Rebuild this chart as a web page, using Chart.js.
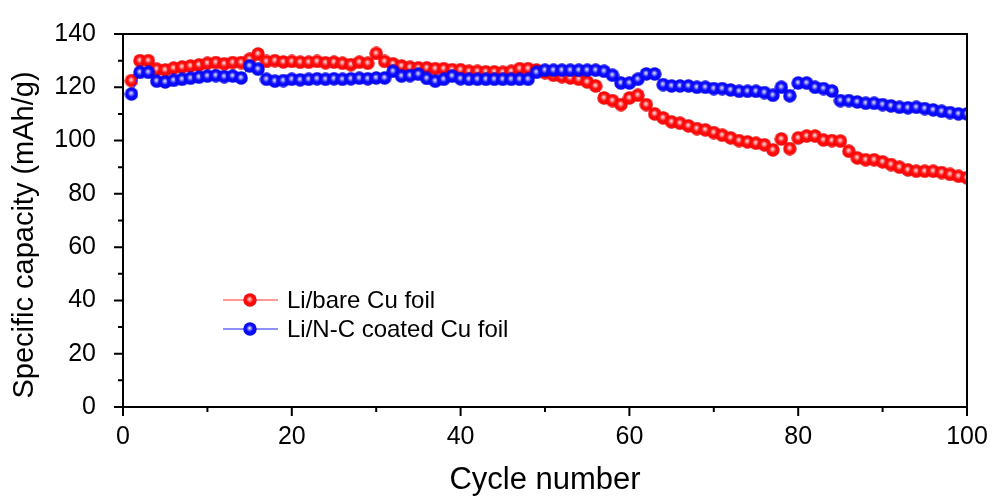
<!DOCTYPE html>
<html>
<head>
<meta charset="utf-8">
<script src="https://cdn.jsdelivr.net/npm/chart.js@4.4.0/dist/chart.umd.min.js"></script>
<style>
  html, body { margin: 0; padding: 0; background: #fff; }
  #wrap { width: 995px; height: 499px; }
</style>
</head>
<body>
<div id="wrap"><canvas id="capacityChart" width="995" height="499"></canvas></div>
<script>
const cycles = [
  1, 2, 3, 4, 5, 6, 7, 8, 9, 10, 11, 12, 13, 14, 15, 16, 17, 18, 19, 20,
  21, 22, 23, 24, 25, 26, 27, 28, 29, 30, 31, 32, 33, 34, 35, 36, 37, 38, 39, 40,
  41, 42, 43, 44, 45, 46, 47, 48, 49, 50, 51, 52, 53, 54, 55, 56, 57, 58, 59, 60,
  61, 62, 63, 64, 65, 66, 67, 68, 69, 70, 71, 72, 73, 74, 75, 76, 77, 78, 79, 80,
  81, 82, 83, 84, 85, 86, 87, 88, 89, 90, 91, 92, 93, 94, 95, 96, 97, 98, 99, 100
];

// Li/bare Cu foil
const bareCu = [
  122.5, 130, 130, 126.8, 126.5, 127.2, 127.6, 128, 128.4, 129,
  129.3, 128.8, 129.3, 129.3, 130.5, 132.5, 129.7, 130, 129.5, 129.7,
  129.4, 129.4, 129.7, 129.2, 129.4, 129, 128.5, 129.4, 129, 132.7,
  129.7, 128.8, 128, 127.5, 127.3, 127.3, 127, 127, 126.6, 126.6,
  126, 126, 125.8, 125.8, 125.6, 126, 127, 127, 126.5, 125.5,
  124.5, 124, 123.5, 123, 122, 120.5, 116, 115, 113.5, 116,
  117, 113.5, 110, 108.5, 107, 106.5, 105.5, 104.5, 104, 103,
  102, 101, 100, 99.5, 99, 98.4, 96.5, 100.6, 97, 101,
  101.7, 101.7, 100.2, 100, 99.8, 96, 93.5, 92.8, 92.8, 92,
  91, 90, 89, 88.5, 88.5, 88.5, 88, 87.3, 86.6, 86
];

// Li/N-C coated Cu foil
const coatedCu = [
  117.5, 125.6, 125.6, 122.3, 122, 122.6, 123, 123.4, 123.8, 124.2,
  124.4, 124, 124.2, 123.5, 128, 126.8, 123, 122.3, 122.5, 123,
  122.8, 123, 123.2, 123, 123.2, 123, 123.2, 123.4, 123.2, 123.5,
  123.5, 126, 124.2, 124.4, 124.9, 123.3, 122.3, 123, 124.2, 123.2,
  123, 123, 123, 123, 123, 123, 123, 123, 125.6, 126.4,
  126.4, 126.4, 126.4, 126.4, 126.4, 126.4, 126, 124.5, 121.6, 121.6,
  123, 125, 125, 121, 120.5, 120.5, 120.5, 120, 120, 119.5,
  119.5, 119, 118.5, 118.5, 118.5, 118, 117, 120, 116.8, 121.6,
  121.6, 120, 119.5, 118.6, 115, 115, 114.5, 114, 114, 113.5,
  113, 112.5, 112.3, 112.5, 112, 111.5, 111, 110.5, 110, 110
];

const seriesNames = ["Li/bare Cu foil", "Li/N-C coated Cu foil"];
const xTicks = [0, 20, 40, 60, 80, 100];
const yTicks = [0, 20, 40, 60, 80, 100, 120, 140];

const FONT = "'Liberation Sans', Arial, sans-serif";

// shiny ball marker like the Origin plot
function makeBall(base, tint, edge) {
  const size = 14;
  const c = document.createElement("canvas");
  c.width = size;
  c.height = size;
  const g = c.getContext("2d");
  const r = size / 2;
  const grad = g.createRadialGradient(r - 0.5, r - 1, 0, r, r, r);
  grad.addColorStop(0, "#ffffff");
  grad.addColorStop(0.18, tint);
  grad.addColorStop(0.5, base);
  grad.addColorStop(0.85, base);
  grad.addColorStop(1, edge);
  g.fillStyle = grad;
  g.beginPath();
  g.arc(r, r, r - 0.3, 0, Math.PI * 2);
  g.fill();
  return c;
}

const redBall = makeBall("#ff0a0a", "#ff9a9a", "#c80000");
const blueBall = makeBall("#0a0aff", "#9a9aff", "#0000b4");

// frame, outward ticks, y title and inset legend
const decorations = {
  id: "decorations",
  afterDraw(chart) {
    const { ctx, chartArea: a, scales } = chart;
    ctx.save();
    ctx.strokeStyle = "#000";
    ctx.lineWidth = 2;
    ctx.strokeRect(a.left, a.top, a.right - a.left, a.bottom - a.top);

    ctx.beginPath();
    for (let v = 0; v <= 100; v += 10) {
      const x = scales.x.getPixelForValue(v);
      const len = v % 20 === 0 ? 9 : 5;
      ctx.moveTo(x, a.bottom);
      ctx.lineTo(x, a.bottom + len);
    }
    for (let v = 0; v <= 140; v += 10) {
      const y = scales.y.getPixelForValue(v);
      const len = v % 20 === 0 ? 9 : 5;
      ctx.moveTo(a.left, y);
      ctx.lineTo(a.left - len, y);
    }
    ctx.stroke();

    // y axis title
    ctx.fillStyle = "#000";
    ctx.font = "29px " + FONT;
    ctx.textAlign = "center";
    ctx.textBaseline = "middle";
    ctx.translate(25, 235);
    ctx.rotate(-Math.PI / 2);
    ctx.fillText("Specific capacity (mAh/g)", 0, 0);
    ctx.setTransform(1, 0, 0, 1, 0, 0);

    // legend
    const rows = [
      { name: seriesNames[0], color: "#ff3030", ball: redBall, y: 300 },
      { name: seriesNames[1], color: "#2020ff", ball: blueBall, y: 329 }
    ];
    ctx.font = "24px " + FONT;
    ctx.textAlign = "left";
    rows.forEach(row => {
      ctx.strokeStyle = row.color;
      ctx.lineWidth = 1;
      ctx.beginPath();
      ctx.moveTo(223, row.y);
      ctx.lineTo(278, row.y);
      ctx.stroke();
      ctx.drawImage(row.ball, 250 - 7, row.y - 7);
      ctx.fillStyle = "#000";
      ctx.fillText(row.name, 287, row.y + 1);
    });
    ctx.restore();
  }
};

new Chart(document.getElementById("capacityChart"), {
  type: "line",
  data: {
    labels: cycles,
    datasets: [
      {
        label: seriesNames[0],
        data: bareCu,
        borderColor: "#ff2020",
        borderWidth: 1,
        pointStyle: redBall,
        order: 2,
        clip: 0
      },
      {
        label: seriesNames[1],
        data: coatedCu,
        borderColor: "#2020ff",
        borderWidth: 1,
        pointStyle: blueBall,
        order: 1,
        clip: 0
      }
    ]
  },
  options: {
    responsive: false,
    animation: false,
    layout: { padding: { top: 27, right: 28, left: 0, bottom: 0 } },
    plugins: {
      legend: { display: false },
      tooltip: { enabled: false }
    },
    scales: {
      x: {
        type: "linear",
        min: 0,
        max: 100,
        grid: { display: false },
        border: { display: false },
        afterBuildTicks: scale => { scale.ticks = xTicks.map(v => ({ value: v })); },
        afterFit: scale => { scale.height = 92; },
        ticks: {
          color: "#000",
          padding: 7,
          maxRotation: 0,
          font: { family: FONT, size: 25 }
        },
        title: {
          display: true,
          text: "Cycle number",
          color: "#000",
          padding: { top: 0, bottom: 0 },
          font: { family: FONT, size: 31 }
        }
      },
      y: {
        min: 0,
        max: 140,
        grid: { display: false },
        border: { display: false },
        afterBuildTicks: scale => { scale.ticks = yTicks.map(v => ({ value: v })); },
        afterFit: scale => { scale.width = 123; },
        ticks: {
          color: "#000",
          padding: 19,
          font: { family: FONT, size: 25 }
        }
      }
    }
  },
  plugins: [decorations]
});
</script>
</body>
</html>
